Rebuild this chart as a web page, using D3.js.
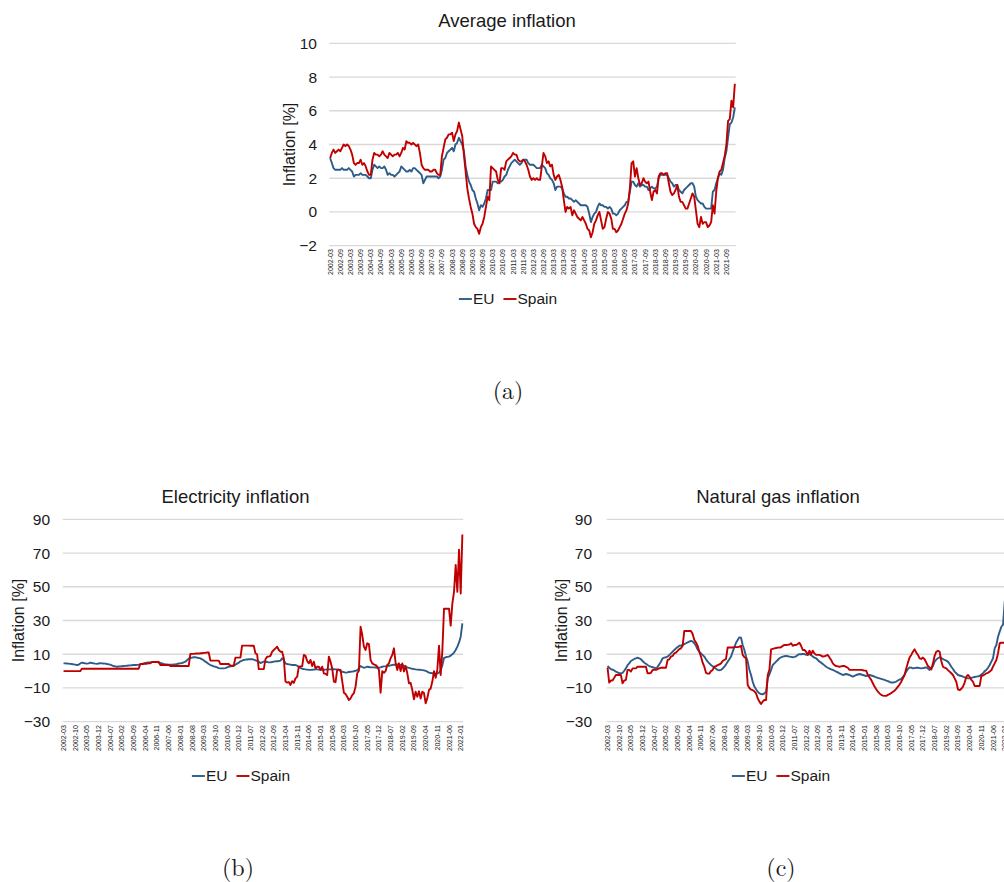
<!DOCTYPE html>
<html><head><meta charset="utf-8">
<script src="https://cdn.jsdelivr.net/npm/d3@7"></script>
<style>
body{margin:0;background:#fff}
svg{display:block}
text{font-family:"Liberation Sans",Arial,sans-serif;fill:#1a1a1a}
</style>
</head><body>
<svg id="c" width="1004" height="882"></svg>
<script>
// ---------- categories (monthly, 2002-03 .. 2022-02) ----------
const firstYear = 2002, firstMonth = 3, nMonths = 240;
const months = [];
for (let k = 0; k < nMonths; k++) {
  const t = (firstMonth - 1) + k;
  months.push(`${firstYear + Math.floor(t / 12)}-${String(t % 12 + 1).padStart(2, "0")}`);
}

// ---------- tick labels ----------
const avgTickLabels = ["2002-03","2002-09","2003-03","2003-09","2004-03","2004-09","2005-03","2005-09","2006-03","2006-09","2007-03","2007-09","2008-03","2008-09","2009-03","2009-09","2010-03","2010-09","2011-03","2011-09","2012-03","2012-09","2013-03","2013-09","2014-03","2014-09","2015-03","2015-09","2016-03","2016-09","2017-03","2017-09","2018-03","2018-09","2019-03","2019-09","2020-03","2020-09","2021-03","2021-09"];
const energyTickLabels = ["2002-03","2002-10","2003-05","2003-12","2004-07","2005-02","2005-09","2006-04","2006-11","2007-06","2008-01","2008-08","2009-03","2009-10","2010-05","2010-12","2011-07","2012-02","2012-09","2013-04","2013-11","2014-06","2015-01","2015-08","2016-03","2016-10","2017-05","2017-12","2018-07","2019-02","2019-09","2020-04","2020-11","2021-06","2022-01"];
const avgYTicks = [-2, 0, 2, 4, 6, 8, 10];
const energyYTicks = [-30, -10, 10, 30, 50, 70, 90];
const seriesNames = ["EU", "Spain"];

// ---------- Average inflation ----------
const avgEU = [
3.2,2.9,2.6,2.5,2.5,2.5,2.5,2.6,2.5,2.5,
2.5,2.6,2.5,2.4,2.1,2.2,2.2,2.2,2.3,2.2,2.2,2.2,
2.1,2.0,2.0,2.5,2.8,2.7,2.6,2.7,2.6,2.6,2.7,2.5,
2.2,2.3,2.2,2.2,2.1,2.2,2.3,2.4,2.7,2.6,2.5,2.4,
2.4,2.5,2.4,2.6,2.6,2.5,2.4,2.3,2.2,1.7,1.9,2.1,
2.1,2.1,2.1,2.1,2.1,2.1,2.0,2.1,2.5,3.1,3.2,3.5,
3.6,3.7,3.8,3.6,4.0,4.1,4.4,4.2,4.0,3.6,2.7,2.2,
1.8,1.6,1.3,1.2,0.8,0.5,0.1,0.4,0.3,0.5,0.8,1.3,
1.3,1.3,1.8,1.8,1.8,1.7,1.8,1.8,1.9,2.1,2.2,2.5,
2.7,2.9,3.0,3.1,3.0,2.9,2.8,2.9,3.1,3.1,3.1,2.9,
2.8,2.8,2.8,2.7,2.6,2.6,2.6,2.8,2.7,2.6,2.3,2.2,
2.0,1.9,1.7,1.3,1.5,1.5,1.5,1.4,1.1,0.9,0.9,0.8,
0.8,0.7,0.6,0.7,0.6,0.5,0.4,0.4,0.4,0.4,0.3,-0.1,
-0.6,-0.3,-0.1,0.0,0.3,0.5,0.4,0.4,0.3,0.3,0.2,0.3,
0.2,-0.1,-0.1,-0.2,-0.1,0.1,0.2,0.3,0.4,0.6,0.6,1.2,
1.8,1.8,1.6,1.5,1.7,1.5,1.6,1.6,1.5,1.5,1.3,1.4,
1.5,1.4,1.4,1.5,2.0,2.2,2.2,2.2,2.2,2.2,2.0,1.8,
1.7,1.5,1.6,1.6,1.3,1.2,1.1,1.3,1.4,1.5,1.6,1.7,
1.7,1.5,0.9,0.7,0.6,0.5,0.5,0.3,0.2,0.2,0.2,0.2,
1.2,1.3,1.7,2.0,2.3,2.2,2.5,3.2,3.6,4.4,5.2,5.3,
5.6,6.2];
const avgES = [
3.2,3.5,3.7,3.5,3.6,3.7,3.6,3.8,4.0,3.9,
4.0,3.9,3.7,3.4,2.9,2.8,2.9,2.9,3.1,2.8,2.9,2.7,
2.4,2.2,2.2,3.1,3.5,3.4,3.4,3.3,3.4,3.6,3.4,3.3,
3.2,3.5,3.4,3.3,3.4,3.4,3.5,3.3,3.5,3.8,3.7,4.2,
4.1,4.1,4.0,4.1,4.0,3.9,4.0,3.5,2.8,2.6,2.5,2.5,
2.5,2.4,2.4,2.5,2.5,2.3,2.2,2.2,3.3,3.8,4.3,4.4,
4.6,4.6,4.7,4.2,4.6,4.8,5.3,4.9,4.5,3.4,2.4,1.4,
0.8,0.3,-0.1,-0.7,-0.9,-1.0,-1.3,-0.9,-0.7,-0.3,0.3,0.9,
0.7,2.7,2.6,2.5,2.4,1.9,1.7,2.6,2.6,2.5,3.0,3.1,
3.2,3.3,3.5,3.4,3.4,3.1,3.0,3.0,3.1,3.0,2.8,2.5,
2.1,1.9,2.0,1.9,2.0,1.9,1.9,2.7,3.5,3.3,2.9,3.0,
2.7,2.8,2.2,1.9,2.1,2.2,1.9,1.5,0.7,0.0,0.3,0.2,
0.3,-0.2,0.1,-0.1,-0.3,-0.4,-0.5,-0.3,-0.5,-0.7,-1.0,-1.1,
-1.5,-1.2,-0.7,-0.5,-0.2,0.0,-0.5,-1.0,-0.9,-0.4,0.0,-0.1,
-0.4,-1.0,-1.0,-1.2,-1.1,-0.9,-0.7,-0.4,-0.1,0.1,0.5,1.4,
2.9,3.0,2.1,2.6,2.0,1.6,1.7,2.0,1.8,1.7,1.8,1.2,
0.7,1.2,1.3,1.1,2.1,2.3,2.3,2.2,2.3,2.3,1.7,1.2,
1.0,1.1,1.3,1.6,0.9,0.6,0.6,0.4,0.2,0.2,0.5,0.8,
1.1,0.9,0.1,-0.7,-0.9,-0.3,-0.7,-0.6,-0.6,-0.9,-0.8,-0.6,
0.4,-0.1,1.2,2.0,2.4,2.5,2.9,3.3,4.0,5.4,5.5,6.6,
6.2,7.6];

// ---------- Electricity inflation ----------
const elecEU = [
4.6,4.6,4.5,4.4,4.3,4.2,4.0,3.8,3.6,3.7,
4.5,5.0,4.8,4.6,4.4,4.6,5.0,4.8,4.6,4.4,4.3,4.5,
4.7,4.6,4.5,4.4,4.2,4.0,3.8,3.4,3.0,2.8,2.6,2.7,
2.8,2.9,3.0,3.1,3.2,3.3,3.4,3.5,3.6,3.6,3.7,3.8,
4.0,4.3,4.6,4.8,5.0,5.1,5.2,5.3,5.4,5.4,5.4,5.2,
4.8,4.5,4.2,4.0,3.9,3.8,3.8,3.8,3.9,4.0,4.2,4.5,
4.6,4.8,5.2,5.6,6.4,7.4,7.8,8.0,8.2,8.2,8.0,7.8,
7.5,7.0,6.4,5.6,5.0,4.2,3.6,3.2,2.8,2.6,2.2,1.8,
1.6,1.6,1.6,1.8,2.2,2.6,2.8,3.0,3.2,3.8,4.4,5.0,
5.8,6.2,6.6,6.8,6.9,7.0,7.0,7.0,6.8,6.4,6.0,5.6,
4.8,5.2,5.6,5.6,5.4,5.2,5.2,5.4,5.6,5.8,5.8,6.0,
6.2,7.6,6.6,4.6,4.2,4.0,3.8,3.6,3.6,3.6,3.2,2.6,
1.8,1.4,1.2,1.0,0.9,0.7,0.7,0.8,0.9,1.0,1.0,0.9,
0.7,0.8,0.8,0.9,1.0,1.0,1.0,1.0,1.1,1.0,1.0,1.0,
-0.2,-0.4,-0.6,-0.9,-0.8,-0.5,-0.4,-0.3,-0.1,0.2,0.6,1.5,
3.0,2.4,2.0,2.2,2.6,2.4,2.2,2.2,2.2,2.1,2.0,2.0,
2.2,2.6,2.8,2.8,3.0,3.2,3.4,3.6,3.8,3.8,4.0,3.8,
3.6,3.6,3.2,2.6,2.2,1.9,1.6,1.4,1.2,1.0,0.9,0.8,
0.7,0.6,0.4,0.1,-0.3,-0.9,-1.1,-1.3,-1.5,-1.7,-1.4,-0.9,
0.6,3.5,7.8,8.2,8.4,8.6,9.2,10.0,11.0,12.5,14.5,17.0,
20.4,28.3];
const elecES = [
0,0,0,0,0,0,0,0,0,0,
0,1.4,1.4,1.4,1.4,1.4,1.4,1.4,1.4,1.4,1.4,1.4,
1.4,1.4,1.4,1.4,1.4,1.4,1.4,1.4,1.4,1.4,1.4,1.4,
1.4,1.4,1.4,1.4,1.4,1.4,1.4,1.4,1.4,1.4,1.4,1.4,
4.2,4.2,4.2,4.4,4.4,4.6,4.6,5.4,5.4,5.4,5.4,5.4,
3.6,3.6,3.6,3.6,3.6,3.6,3.0,3.0,3.0,3.0,3.0,3.0,
3.0,3.0,3.0,3.0,3.0,3.0,10.2,10.2,10.2,10.4,10.4,10.4,
10.6,10.6,10.8,10.8,11.0,11.0,6.2,6.2,6.2,6.2,6.2,6.2,
4.2,4.2,4.2,4.2,4.2,4.2,3.2,3.2,3.2,8.0,8.0,8.0,
8.0,15.1,15.1,15.1,15.1,15.1,15.0,15.0,15.0,10.5,10.0,1.2,
1.2,1.2,1.2,7.0,8.5,8.6,9.0,11.5,12.5,13.5,14.5,12.5,
11.5,11.5,7.6,-6.2,-6.8,-6.5,-8.2,-6.0,-7.0,-4.3,-3.4,2.6,
2.8,2.8,9.6,9.0,6.0,4.6,6.6,3.0,5.6,1.6,2.6,2.6,
0.7,2.6,-1.3,-1.7,-2.3,8.6,5.6,1.6,-6.2,-6.6,0.7,0.7,
0.7,-6.0,-12.8,-13.6,-15.2,-17.1,-16.2,-14.2,-13.0,-9.2,-1.3,0.2,
26.3,21.4,14.5,12.5,16.5,16.0,6.6,4.6,4.0,3.6,2.6,0.7,
-12.8,0.0,-1.0,0.0,3.6,4.6,7.6,9.6,13.5,5.0,0.7,4.6,
0.0,4.6,-0.2,3.0,-1.3,-7.2,-7.0,-11.2,-16.7,-12.2,-15.2,-12.0,
-16.2,-12.2,-13.0,-19.1,-16.0,-11.2,-10.3,-6.2,0.0,-4.0,1.0,15.0,
-2.3,12.0,37.0,37.0,37.0,37.0,27.0,40.0,47.0,63.0,47.0,72.0,
46.0,81.0];

// ---------- Natural gas inflation ----------
const gasEU = [
3.0,2.0,1.2,0.8,0.4,-0.3,-0.8,-1.3,-1.3,-1.0,
0.2,1.6,3.5,4.6,6.0,6.6,7.2,7.5,8.0,7.6,7.0,6.0,
5.0,4.3,3.6,3.0,2.6,2.3,2.0,1.6,2.5,4.0,5.6,7.6,
8.0,8.2,8.6,9.5,10.5,11.5,12.5,13.5,14.2,15.0,15.2,15.5,
16.0,16.5,17.0,17.5,18.0,17.5,16.5,15.0,12.8,11.5,10.5,9.5,
8.6,7.0,5.6,4.6,3.6,2.8,2.2,1.4,0.7,0.5,0.7,1.5,
2.6,4.0,5.6,7.0,8.6,11.5,14.1,16.8,18.4,20.0,19.8,15.5,
12.5,8.6,5.6,0.7,-2.3,-6.3,-9.2,-10.8,-12.2,-13.2,-13.6,-13.8,
-13.2,-12.2,-4.3,-2.0,0.7,3.6,4.6,5.6,6.6,7.6,8.2,8.6,
8.8,9.0,8.8,8.6,8.4,8.2,8.4,8.8,9.6,10.0,10.0,10.1,
10.1,9.6,9.8,10.1,9.5,8.6,8.0,7.6,6.6,5.6,5.0,4.2,
3.4,2.6,2.0,1.5,1.0,0.7,0.2,-0.3,-0.8,-1.3,-1.8,-2.3,
-2.0,-1.7,-2.0,-2.3,-2.8,-3.3,-2.8,-2.3,-2.0,-1.7,-2.0,-2.3,
-2.6,-2.9,-2.6,-2.3,-2.6,-2.9,-3.3,-3.7,-4.0,-4.3,-4.6,-4.9,
-5.2,-5.6,-5.9,-6.4,-6.8,-6.8,-6.6,-6.2,-5.6,-5.0,-4.6,-3.5,
-2.0,-0.3,1.2,2.2,2.0,1.6,1.8,2.0,2.0,1.8,1.6,1.8,
2.0,2.2,1.5,0.7,1.8,3.0,5.6,6.8,7.6,8.2,7.8,7.2,
6.6,6.2,5.6,4.2,2.6,1.2,-0.3,-1.3,-2.3,-2.6,-2.9,-3.3,
-3.7,-4.0,-4.3,-4.3,-4.0,-3.7,-3.5,-3.3,-3.1,-2.9,-2.0,-1.3,
0.0,0.7,2.0,3.6,5.6,7.6,13.5,15.5,20.4,23.4,26.3,27.5,
41.0,47.0];
const gasES = [
2.0,-6.8,-5.6,-5.6,-4.0,-2.3,-2.3,-2.3,-2.3,-7.2,
-5.6,-5.2,0.7,0.7,-0.3,1.6,1.6,1.6,2.6,2.6,2.6,2.6,
2.6,2.6,-1.3,-1.3,-1.0,0.7,0.7,0.7,1.2,1.6,2.0,2.0,
2.0,2.0,6.6,7.0,8.6,9.0,10.5,11.0,12.0,13.0,13.5,15.0,
23.8,23.8,23.8,23.8,23.8,22.0,18.4,17.0,15.0,11.5,8.6,5.0,
2.6,-1.0,-1.5,-1.5,0.0,0.7,2.6,3.0,3.5,4.0,4.6,6.0,
6.6,7.2,14.0,14.0,14.0,14.0,14.2,14.2,14.2,14.5,15.0,9.6,
8.2,7.6,-8.3,-10.0,-11.0,-11.3,-12.0,-13.2,-16.1,-18.1,-19.5,-18.0,
-17.1,-17.1,-2.3,0.7,12.9,13.2,13.5,13.7,13.9,14.0,14.1,15.0,
15.5,15.5,15.6,15.8,16.5,15.0,15.5,15.5,16.0,16.8,15.0,12.5,
12.5,11.5,9.6,12.1,10.0,12.1,10.5,9.6,9.6,9.6,9.2,8.6,
8.8,9.2,9.6,8.0,6.6,4.6,3.5,3.0,2.8,2.6,2.8,3.0,
3.0,2.5,2.0,0.7,0.7,0.7,0.7,0.7,0.7,0.7,0.7,0.5,
0.3,0.3,-2.3,-3.8,-5.2,-7.2,-9.2,-10.8,-12.2,-13.2,-14.1,-14.5,
-14.7,-14.7,-14.1,-13.6,-13.1,-12.3,-11.6,-10.5,-9.2,-8.0,-6.3,-4.3,
-2.3,1.6,5.0,8.0,9.6,11.5,12.9,11.0,9.6,7.6,7.2,8.0,
7.0,5.0,3.0,2.2,1.0,4.6,9.0,11.5,12.1,11.5,6.0,2.6,
2.0,1.6,0.6,-0.3,-1.3,-2.3,-4.3,-6.3,-10.9,-11.3,-10.5,-9.2,
-6.8,-3.3,-2.3,-3.5,-5.2,-6.3,-8.8,-8.8,-8.8,-8.8,-2.9,-2.6,
-2.0,-1.3,-1.0,-0.3,0.5,2.6,4.6,6.6,10.5,16.5,16.8,16.8,
16.8,17.0];

// ---------- drawing ----------
const COLORS = { EU: "#2e5c88", Spain: "#c00000" };
const svg = d3.select("#c");
svg.append("rect").attr("width", 1004).attr("height", 882).attr("fill", "#fff");

function drawChart(cfg) {
  const g = svg.append("g");
  const x = d3.scaleBand().domain(months).range([cfg.left, cfg.right]);
  const cx = m => x(m) + x.bandwidth() / 2;
  const y = d3.scaleLinear().domain(cfg.yDomain).range([cfg.bottom, cfg.top]);

  // gridlines
  g.append("g").selectAll("line").data(cfg.yTicks).join("line")
    .attr("x1", cfg.left).attr("x2", cfg.right)
    .attr("y1", d => y(d)).attr("y2", d => y(d))
    .attr("stroke", "#d9d9d9").attr("stroke-width", 1.3);

  // y axis labels
  const ya = g.append("g").attr("transform", `translate(${cfg.left},0)`)
    .call(d3.axisLeft(y).tickValues(cfg.yTicks).tickSize(0).tickPadding(cfg.left - cfg.tickRight));
  ya.select(".domain").remove();
  ya.selectAll("text").style("font-family", '"Liberation Sans",Arial,sans-serif')
    .style("font-size", "15.5px").attr("fill", "#1a1a1a");

  // x axis labels
  const xa = g.append("g").attr("transform", `translate(0,${cfg.xLabelTop})`)
    .call(d3.axisBottom(x).tickValues(cfg.xTicks).tickSize(0));
  xa.select(".domain").remove();
  xa.selectAll("text")
    .attr("transform", "rotate(-90)").attr("x", 0).attr("y", 0).attr("dy", "0.35em")
    .style("text-anchor", "end")
    .style("font-family", '"Liberation Sans",Arial,sans-serif')
    .style("font-size", "7.1px").attr("fill", "#1a1a1a");

  // lines
  const line = d3.line().x((d, i) => cx(months[i])).y(d => y(d));
  [["EU", cfg.eu], ["Spain", cfg.es]].forEach(([name, vals]) => {
    g.append("path").datum(vals).attr("d", line)
      .attr("fill", "none").attr("stroke", COLORS[name])
      .attr("stroke-width", 1.9).attr("stroke-linejoin", "round");
  });

  // title
  g.append("text").attr("x", cfg.titleX).attr("y", cfg.titleY)
    .attr("text-anchor", "middle").style("font-size", "18.5px").text(cfg.title);

  // y label
  g.append("text").attr("transform", `translate(${cfg.yLabelX},${(cfg.top + cfg.bottom) / 2}) rotate(-90)`)
    .attr("text-anchor", "middle").attr("dy", "0.35em").style("font-size", "16px").text("Inflation [%]");

  // legend
  const lg = g.append("g");
  let lx = 0;
  seriesNames.forEach((name, k) => {
    if (k > 0) lx += 9;
    lg.append("line").attr("x1", lx).attr("x2", lx + 13).attr("y1", 0).attr("y2", 0)
      .attr("stroke", COLORS[name]).attr("stroke-width", 1.9);
    lx += 14;
    const t = lg.append("text").attr("x", lx).attr("y", 0).attr("dy", "0.35em")
      .style("font-size", "15.5px").text(name);
    lx += t.node().getComputedTextLength();
  });
  lg.attr("transform", `translate(${cfg.legendX - lx / 2},${cfg.legendY})`);

  // panel tag
  svg.append("text").attr("x", cfg.tagX).attr("y", cfg.tagY).attr("text-anchor", "middle")
    .style("font-family", '"Latin Modern Roman","CMU Serif","Liberation Serif","DejaVu Serif",serif')
    .style("font-size", "24px").attr("fill", "#000").text(cfg.tag);
}

drawChart({
  left: 329.3, right: 735.7, top: 43.3, bottom: 245.7, tickRight: 317,
  yDomain: [-2, 10], yTicks: avgYTicks, xTicks: avgTickLabels, xLabelTop: 249,
  eu: avgEU, es: avgES, title: "Average inflation", titleX: 507, titleY: 27,
  yLabelX: 289, legendX: 508, legendY: 299, tag: "(a)", tagX: 508, tagY: 399
});
drawChart({
  left: 62.7, right: 463.2, top: 519.3, bottom: 721.7, tickRight: 50,
  yDomain: [-30, 90], yTicks: energyYTicks, xTicks: energyTickLabels, xLabelTop: 725,
  eu: elecEU, es: elecES, title: "Electricity inflation", titleX: 235.5, titleY: 502.5,
  yLabelX: 18, legendX: 241, legendY: 776, tag: "(b)", tagX: 238, tagY: 876
});
drawChart({
  left: 606.7, right: 1007.2, top: 519.3, bottom: 721.7, tickRight: 592,
  yDomain: [-30, 90], yTicks: energyYTicks, xTicks: energyTickLabels, xLabelTop: 725,
  eu: gasEU, es: gasES, title: "Natural gas inflation", titleX: 778, titleY: 502.5,
  yLabelX: 561, legendX: 781, legendY: 776, tag: "(c)", tagX: 781, tagY: 876
});
</script>
</body></html>
